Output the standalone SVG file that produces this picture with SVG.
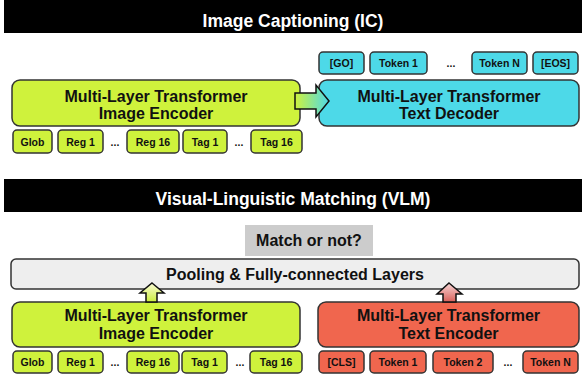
<svg xmlns="http://www.w3.org/2000/svg" width="582" height="377" viewBox="0 0 582 377">
<style>
.title{font-family:"Liberation Sans",Arial,sans-serif;font-weight:bold;font-size:17.5px;fill:#fff;text-anchor:middle}
.big{font-family:"Liberation Sans",Arial,sans-serif;font-weight:bold;font-size:16px;fill:#111;text-anchor:middle}
.tok{font-family:"Liberation Sans",Arial,sans-serif;font-weight:bold;font-size:10.5px;fill:#111;text-anchor:middle}
.green{fill:#cff23c;stroke:#333;stroke-width:1.5}
.cyan{fill:#4dd9e8;stroke:#333;stroke-width:1.5}
.red{fill:#f0664e;stroke:#333;stroke-width:1.5}
.arrow{stroke:#111;stroke-width:1.5;stroke-linejoin:miter}
</style>
<defs>
<linearGradient id="gH" x1="0" y1="0" x2="1" y2="0"><stop offset="0" stop-color="#cff23c"/><stop offset="1" stop-color="#4dd9e8"/></linearGradient>
<linearGradient id="gG" x1="0" y1="0" x2="0" y2="1"><stop offset="0" stop-color="#fbfbd8"/><stop offset="1" stop-color="#cbee3c"/></linearGradient>
<linearGradient id="gR" x1="0" y1="0" x2="0" y2="1"><stop offset="0" stop-color="#f7d6d6"/><stop offset="1" stop-color="#d9605a"/></linearGradient>
</defs>

<g id="title-ic">
<rect x="4" y="0" width="578" height="33" fill="#000"/>
<text class="title" x="293" y="27">Image Captioning (IC)</text>
</g>

<g id="ic-encoder">
<rect class="green" x="12" y="80" width="288" height="46" rx="8"/>
<text class="big" x="156" y="102">Multi-Layer Transformer</text>
<text class="big" x="156" y="119">Image Encoder</text>
</g>
<g id="ic-enc-tokens">
<rect class="green" x="13" y="130" width="39" height="23" rx="4"/><text class="tok" x="32.5" y="145.5">Glob</text>
<rect class="green" x="58" y="130" width="45" height="23" rx="4"/><text class="tok" x="80.5" y="145.5">Reg 1</text>
<text class="tok" x="115" y="145.5">...</text>
<rect class="green" x="127" y="130" width="52" height="23" rx="4"/><text class="tok" x="153" y="145.5">Reg 16</text>
<rect class="green" x="183" y="130" width="44" height="23" rx="4"/><text class="tok" x="205" y="145.5">Tag 1</text>
<text class="tok" x="239" y="145.5">...</text>
<rect class="green" x="251" y="130" width="51" height="23" rx="4"/><text class="tok" x="276.5" y="145.5">Tag 16</text>
</g>

<g id="ic-decoder">
<rect class="cyan" x="319" y="80" width="260" height="46" rx="8"/>
<text class="big" x="449" y="102">Multi-Layer Transformer</text>
<text class="big" x="449" y="119">Text Decoder</text>
</g>
<g id="ic-dec-tokens">
<rect class="cyan" x="319" y="52" width="45" height="22" rx="4"/><text class="tok" x="341.5" y="67">[GO]</text>
<rect class="cyan" x="370" y="52" width="57" height="22" rx="4"/><text class="tok" x="398.5" y="67">Token 1</text>
<text class="tok" x="451" y="67">...</text>
<rect class="cyan" x="472" y="52" width="55" height="22" rx="4"/><text class="tok" x="499.5" y="67">Token N</text>
<rect class="cyan" x="533" y="52" width="45" height="22" rx="4"/><text class="tok" x="555.5" y="67">[EOS]</text>
</g>

<g id="title-vlm">
<rect x="4" y="179" width="578" height="33" fill="#000"/>
<text class="title" x="293" y="205">Visual-Linguistic Matching (VLM)</text>
</g>

<g id="match">
<rect x="245" y="225" width="128" height="31" fill="#cccccc"/>
<text class="big" x="309" y="246">Match or not?</text>
</g>

<g id="pooling">
<rect x="11" y="259" width="568" height="30" rx="5" fill="#eeeeee" stroke="#333" stroke-width="1.5"/>
<text class="big" x="295" y="280">Pooling &amp; Fully-connected Layers</text>
</g>

<g id="vlm-img-encoder">
<rect class="green" x="12" y="302" width="288" height="45" rx="8"/>
<text class="big" x="156" y="321">Multi-Layer Transformer</text>
<text class="big" x="156" y="339">Image Encoder</text>
</g>
<g id="vlm-img-tokens">
<rect class="green" x="13" y="351" width="39" height="22" rx="4"/><text class="tok" x="32.5" y="366">Glob</text>
<rect class="green" x="58" y="351" width="45" height="22" rx="4"/><text class="tok" x="80.5" y="366">Reg 1</text>
<text class="tok" x="115" y="366">...</text>
<rect class="green" x="127" y="351" width="52" height="22" rx="4"/><text class="tok" x="153" y="366">Reg 16</text>
<rect class="green" x="182" y="351" width="45" height="22" rx="4"/><text class="tok" x="204.5" y="366">Tag 1</text>
<text class="tok" x="240" y="366">...</text>
<rect class="green" x="250" y="351" width="52" height="22" rx="4"/><text class="tok" x="276" y="366">Tag 16</text>
</g>

<g id="vlm-text-encoder">
<rect class="red" x="318" y="302" width="261" height="45" rx="8"/>
<text class="big" x="448.5" y="321">Multi-Layer Transformer</text>
<text class="big" x="448.5" y="339">Text Encoder</text>
</g>
<g id="vlm-text-tokens">
<rect class="red" x="319" y="351" width="45" height="22" rx="4"/><text class="tok" x="341.5" y="366">[CLS]</text>
<rect class="red" x="370" y="351" width="56" height="22" rx="4"/><text class="tok" x="398" y="366">Token 1</text>
<rect class="red" x="433" y="351" width="60" height="22" rx="4"/><text class="tok" x="463" y="366">Token 2</text>
<text class="tok" x="508" y="366">...</text>
<rect class="red" x="523" y="351" width="55" height="22" rx="4"/><text class="tok" x="550.5" y="366">Token N</text>
</g>

<g id="connectors">
<polygon class="arrow" fill="url(#gH)" points="295,93 316,93 316,85 329,101 316,117 316,109 295,109"/>
<polygon class="arrow" fill="url(#gG)" points="152,283 164,293 157,293 157,302 146,302 146,293 140,293"/>
<polygon class="arrow" fill="url(#gR)" points="449,283 462,294 456,294 456,302 443,302 443,294 437,294"/>
</g>
</svg>
